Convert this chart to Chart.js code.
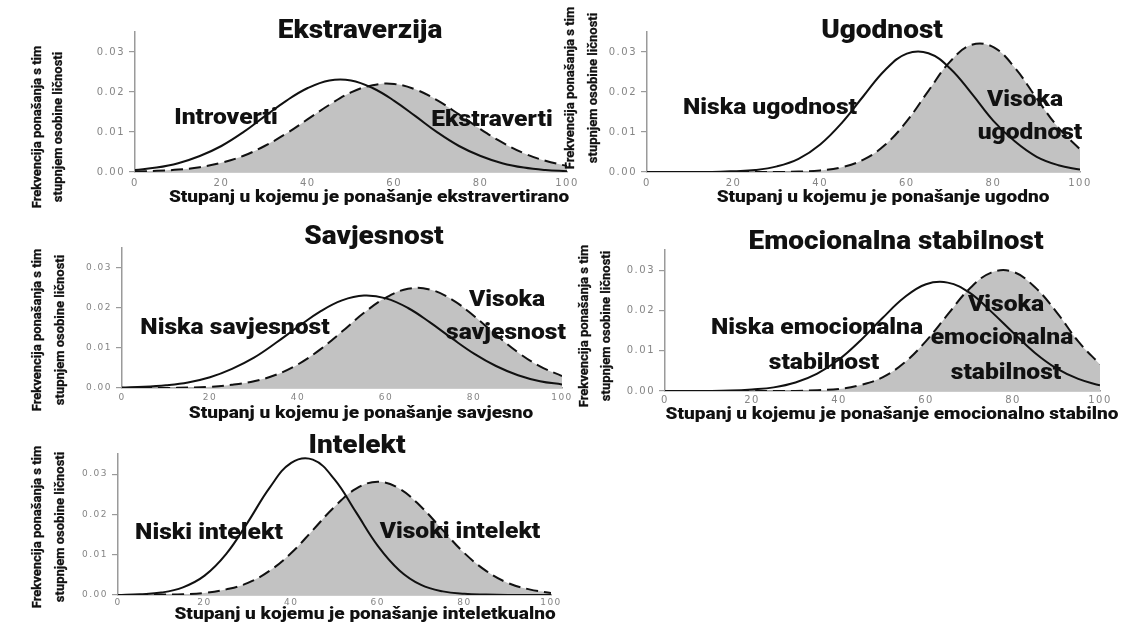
<!DOCTYPE html>
<html>
<head>
<meta charset="utf-8">
<script src="https://cdn.jsdelivr.net/npm/chart.js@4.4.1/dist/chart.umd.min.js"></script>
<style>
  html, body { margin: 0; padding: 0; background: #fff; }
  #wrap { position: relative; width: 1127px; height: 624px; overflow: hidden; }
  #wrap canvas { position: absolute; left: 0; top: 0; }
</style>
</head>
<body>
<div id="wrap"></div>
<script>
// x positions (degree of behaviour, 0-100) shared by all curves
const xValues = [0, 5, 10, 15, 20, 25, 30, 35, 40, 45, 50, 55, 60, 65, 70, 75, 80, 85, 90, 95, 100];
const xTicks = [0, 20, 40, 60, 80, 100];
const yTicks = [0, 0.01, 0.02, 0.03];

// curves (solid = low, dashed + grey = high)
const ekstraverzijaNiska = [0.0005, 0.0011, 0.0022, 0.0040, 0.0065, 0.0099, 0.0139, 0.0178, 0.0210, 0.0229, 0.0229, 0.0210, 0.0178, 0.0139, 0.0099, 0.0065, 0.0040, 0.0022, 0.0011, 0.0005, 0.0002];
const ekstraverzijaVisoka = [0.0001, 0.0003, 0.0006, 0.0012, 0.0023, 0.0040, 0.0065, 0.0096, 0.0132, 0.0168, 0.0199, 0.0217, 0.0220, 0.0206, 0.0179, 0.0144, 0.0107, 0.0074, 0.0047, 0.0028, 0.0015];

const ugodnostNiska = [0, 0, 0, 0, 0.0002, 0.0005, 0.0014, 0.0033, 0.0069, 0.0123, 0.0190, 0.0255, 0.0296, 0.0297, 0.0259, 0.0196, 0.0128, 0.0076, 0.0038, 0.0017, 0.0006];
const ugodnostVisoka = [0, 0, 0, 0, 0, 0, 0, 0.0001, 0.0004, 0.0012, 0.0031, 0.0068, 0.0127, 0.0203, 0.0276, 0.0318, 0.0312, 0.0260, 0.0184, 0.0111, 0.0057];

const savjesnostNiska = [0.0001, 0.0003, 0.0007, 0.0014, 0.0027, 0.0048, 0.0076, 0.0113, 0.0153, 0.0191, 0.0219, 0.0231, 0.0224, 0.0200, 0.0164, 0.0124, 0.0086, 0.0055, 0.0032, 0.0017, 0.0009];
const savjesnostVisoka = [0, 0, 0, 0.0001, 0.0003, 0.0008, 0.0017, 0.0033, 0.0059, 0.0096, 0.0141, 0.0188, 0.0226, 0.0248, 0.0246, 0.0221, 0.0180, 0.0133, 0.0089, 0.0054, 0.0030];

const stabilnostNiska = [0, 0, 0, 0.0001, 0.0004, 0.0009, 0.0021, 0.0043, 0.0078, 0.0126, 0.0181, 0.0232, 0.0265, 0.0269, 0.0244, 0.0197, 0.0145, 0.0095, 0.0056, 0.0030, 0.0014];
const stabilnostVisoka = [0, 0, 0, 0, 0, 0, 0, 0.0002, 0.0005, 0.0015, 0.0034, 0.0070, 0.0124, 0.0190, 0.0254, 0.0294, 0.0296, 0.0258, 0.0196, 0.0123, 0.0066];

const intelektNiski = [0, 0.0002, 0.0006, 0.0019, 0.0048, 0.0102, 0.0181, 0.0266, 0.0328, 0.0336, 0.0287, 0.0205, 0.0122, 0.0061, 0.0025, 0.0009, 0.0003, 0.0001, 0, 0, 0];
const intelektVisoki = [0, 0, 0.0001, 0.0002, 0.0005, 0.0014, 0.0030, 0.0060, 0.0104, 0.0161, 0.0219, 0.0264, 0.0281, 0.0264, 0.0219, 0.0161, 0.0104, 0.0060, 0.0030, 0.0014, 0.0005];

const panelTitles = ['Ekstraverzija', 'Ugodnost', 'Savjesnost', 'Emocionalna stabilnost', 'Intelekt'];
const xTitles = [
  'Stupanj u kojemu je ponašanje ekstravertirano',
  'Stupanj u kojemu je ponašanje ugodno',
  'Stupanj u kojemu je ponašanje savjesno',
  'Stupanj u kojemu je ponašanje emocionalno stabilno',
  'Stupanj u kojemu je ponašanje inteletkualno'
];
const yTitle = ['Frekvencija ponašanja s tim', 'stupnjem osobine ličnosti'];
const lowLabels = [['Introverti'], ['Niska ugodnost'], ['Niska savjesnost'], ['Niska emocionalna', 'stabilnost'], ['Niski intelekt']];
const highLabels = [['Ekstraverti'], ['Visoka', 'ugodnost'], ['Visoka', 'savjesnost'], ['Visoka', 'emocionalna', 'stabilnost'], ['Visoki intelekt']];

const lowSeries = [ekstraverzijaNiska, ugodnostNiska, savjesnostNiska, stabilnostNiska, intelektNiski];
const highSeries = [ekstraverzijaVisoka, ugodnostVisoka, savjesnostVisoka, stabilnostVisoka, intelektVisoki];

// page layout of each panel (pixels)
const layout = [
  { plot: { l: 135, r: 567, t: 32, b: 172 }, title: [360, 32], xTitle: [369, 198], yTitle: [38, 59, 127], low: [[226, 118]], high: [[492, 120]], tick: 10, tickPad: 5 },
  { plot: { l: 647, r: 1080, t: 32, b: 172 }, title: [882, 32], xTitle: [883, 198], yTitle: [571, 594, 88], low: [[770, 108]], high: [[1025, 100], [1030, 133]], tick: 10, tickPad: 5 },
  { plot: { l: 122, r: 562, t: 248, b: 388 }, title: [374, 238], xTitle: [361, 414], yTitle: [38, 61, 330], low: [[235, 328]], high: [[507, 300], [506, 333]], tick: 9, tickPad: 4 },
  { plot: { l: 665, r: 1100, t: 250, b: 391 }, title: [896, 243], xTitle: [892, 415], yTitle: [585, 607, 326], low: [[817, 328], [824, 363]], high: [[1006, 305], [1002, 338], [1006, 373]], tick: 10, tickPad: 3 },
  { plot: { l: 118, r: 551, t: 454, b: 595 }, title: [357, 447], xTitle: [365, 615], yTitle: [38, 61, 527], low: [[209, 533]], high: [[460, 532]], tick: 9, tickPad: 2 }
];

const W = 1127, H = 624;
const Y_AXIS_W = 50, X_AXIS_H = 20;
const AXIS_GREY = '#9a9a9a';
const TICK_GREY = '#858585';
const INK = '#111';
const STRETCH = 1.12;

function boldText(ctx, text, x, y, size) {
  ctx.save();
  ctx.letterSpacing = '0px';
  ctx.font = `900 ${size}px Roboto`;
  ctx.fillStyle = INK;
  ctx.textAlign = 'center';
  ctx.textBaseline = 'middle';
  ctx.translate(x, y);
  ctx.scale(STRETCH, 1);
  ctx.fillText(text, 0, 0);
  ctx.restore();
}

function verticalText(ctx, text, x, y, size) {
  ctx.save();
  ctx.letterSpacing = '0px';
  ctx.font = `700 ${size}px Roboto`;
  ctx.fillStyle = INK;
  ctx.strokeStyle = INK;
  ctx.lineWidth = 0.3;
  ctx.textAlign = 'center';
  ctx.textBaseline = 'middle';
  ctx.translate(x, y);
  ctx.rotate(-Math.PI / 2);
  ctx.fillText(text, 0, 0);
  ctx.strokeText(text, 0, 0);
  ctx.restore();
}

const wrap = document.getElementById('wrap');

layout.forEach((lay, p) => {
  const canvas = document.createElement('canvas');
  canvas.width = W;
  canvas.height = H;
  canvas.style.width = W + 'px';
  canvas.style.height = H + 'px';
  wrap.appendChild(canvas);

  const overlay = {
    id: 'overlay' + p,
    // wide-looking tick numbers, as in the stretched original
    beforeDraw: chart => { chart.ctx.letterSpacing = '1.5px'; },
    beforeDatasetsDraw: chart => { chart.ctx.letterSpacing = '0px'; },
    afterDraw: chart => {
      const ctx = chart.ctx;
      boldText(ctx, panelTitles[p], lay.title[0], lay.title[1], 25);
      boldText(ctx, xTitles[p], lay.xTitle[0], lay.xTitle[1], 17);
      verticalText(ctx, yTitle[0], lay.yTitle[0], lay.yTitle[2], 13);
      verticalText(ctx, yTitle[1], lay.yTitle[1], lay.yTitle[2], 13);
      lowLabels[p].forEach((t, i) => boldText(ctx, t, lay.low[i][0], lay.low[i][1], 22));
      highLabels[p].forEach((t, i) => boldText(ctx, t, lay.high[i][0], lay.high[i][1], 22));
    }
  };

  const tickFont = { family: 'DejaVu Sans', size: lay.tick };

  new Chart(canvas, {
    type: 'line',
    data: {
      datasets: [
        {
          label: lowLabels[p].join(' '),
          data: xValues.map((x, i) => ({ x, y: lowSeries[p][i] })),
          borderColor: INK,
          borderWidth: 2,
          fill: false,
          pointRadius: 0,
          tension: 0.4
        },
        {
          label: highLabels[p].join(' '),
          data: xValues.map((x, i) => ({ x, y: highSeries[p][i] })),
          borderColor: INK,
          borderWidth: 2,
          borderDash: [12, 6],
          fill: 'origin',
          backgroundColor: '#c2c2c2',
          pointRadius: 0,
          tension: 0.4
        }
      ]
    },
    options: {
      responsive: false,
      animation: false,
      devicePixelRatio: 1,
      layout: {
        padding: {
          left: lay.plot.l - Y_AXIS_W,
          right: W - lay.plot.r,
          top: lay.plot.t,
          bottom: H - lay.plot.b - X_AXIS_H
        }
      },
      plugins: {
        legend: { display: false },
        tooltip: { enabled: false },
        title: { display: false }
      },
      scales: {
        x: {
          type: 'linear',
          min: 0,
          max: 100,
          afterBuildTicks: s => { s.ticks = xTicks.map(v => ({ value: v })); },
          afterFit: s => { s.height = X_AXIS_H; },
          grid: { display: false, drawTicks: false },
          border: { display: true, color: AXIS_GREY, width: 1.5 },
          ticks: { color: TICK_GREY, font: tickFont, padding: lay.tickPad, maxRotation: 0, autoSkip: false, callback: v => String(v) }
        },
        y: {
          min: 0,
          max: 0.035,
          afterBuildTicks: s => { s.ticks = yTicks.map(v => ({ value: v })); },
          afterFit: s => { s.width = Y_AXIS_W; },
          grid: { display: true, drawOnChartArea: false, drawTicks: true, tickLength: 6, color: AXIS_GREY, lineWidth: 1.2 },
          border: { display: true, color: AXIS_GREY, width: 1.5 },
          ticks: { color: TICK_GREY, font: tickFont, padding: 4, callback: v => v.toFixed(2) }
        }
      }
    },
    plugins: [overlay]
  });
});
</script>
</body>
</html>
